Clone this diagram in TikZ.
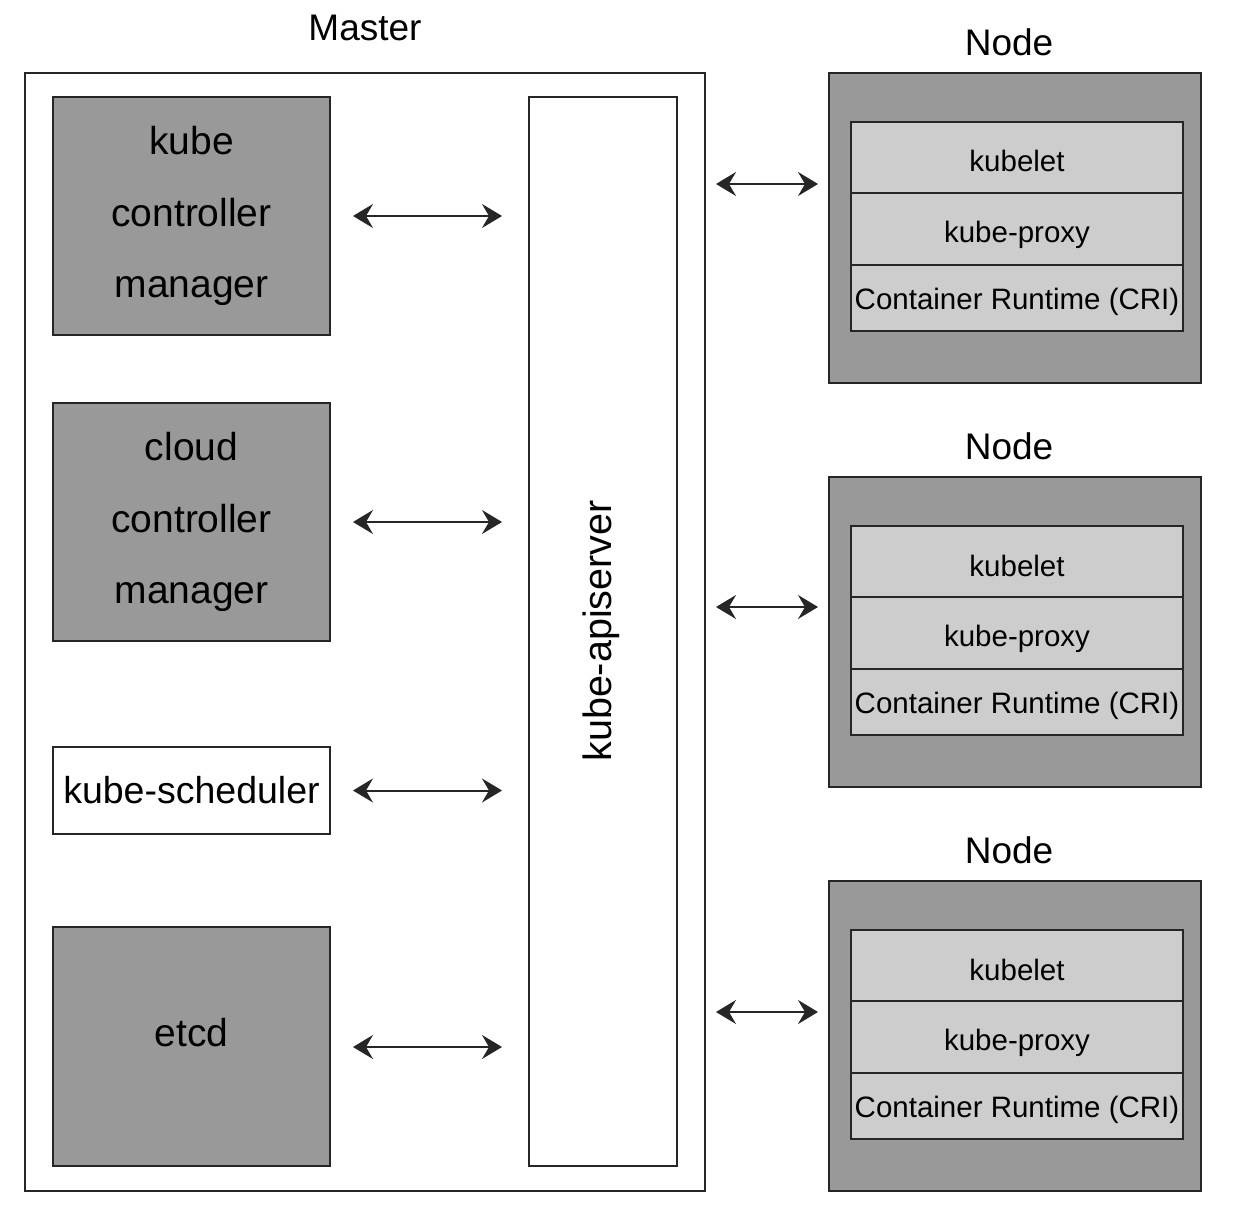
\documentclass[tikz,border=0pt]{standalone}
\usepackage{fontspec}
\setmainfont{Liberation Sans}
\usetikzlibrary{arrows.meta}
\definecolor{darkfill}{RGB}{153,153,153}
\definecolor{lightfill}{RGB}{205,205,205}
\definecolor{edge}{RGB}{38,38,38}
\begin{document}
\begin{tikzpicture}[x=1pt,y=-1pt,
  box/.style={draw=edge,line width=2pt,rectangle,inner sep=0pt,align=center},
  darkbox/.style={box,fill=darkfill},
  bigtxt/.style={font=\fontsize{39}{71.5}\selectfont},
  lbl/.style={font=\fontsize{37}{44}\selectfont,inner sep=0pt},
  rowbox/.style={box,fill=lightfill,minimum width=332pt,font=\fontsize{29.5}{35}\selectfont},
  biarrow/.style={line width=2pt,draw=edge,{Stealth[length=20pt,width=24pt,inset=7pt]}-{Stealth[length=20pt,width=24pt,inset=7pt]}}
]
\useasboundingbox[fill=white] (0,0) rectangle (1236,1214);

% Master
\node[box,fill=white,minimum width=680pt,minimum height=1118pt] (master) at (365,632) {};
\node[lbl] (masterlbl) at (365,28) {Master};

\node[darkbox,bigtxt,minimum width=277pt,minimum height=238pt] (kcm) at (191.5,216) {kube\\controller\\manager};
\node[darkbox,bigtxt,minimum width=277pt,minimum height=238pt] (ccm) at (191.5,522) {cloud\\controller\\manager};
\node[box,fill=white,font=\fontsize{37.5}{44}\selectfont,minimum width=277pt,minimum height=87pt] (sched) at (191.5,790.5) {kube-scheduler};
\node[darkbox,minimum width=277pt,minimum height=239pt] (etcd) at (191.5,1046.5) {};
\node[bigtxt,inner sep=0pt] (etcdlbl) at (191.5,1033) {etcd};

\node[box,fill=white,minimum width=148pt,minimum height=1069pt] (api) at (603,631.5) {};
\node[font=\fontsize{39.5}{44}\selectfont,rotate=90,inner sep=0pt] (apilbl) at (601,631) {kube-apiserver};

\foreach \n in {kcm,ccm,sched}{
  \draw[biarrow] ([xshift=22pt]\n.east) -- ([xshift=-26pt]\n.east -| api.west);
}
\draw[biarrow] ([xshift=22pt,yshift=-0.5pt]etcd.east) -- ([xshift=-26pt,yshift=-0.5pt]etcd.east -| api.west);

% Worker nodes
\foreach \i/\y in {1/228,2/632,3/1036}{
  \node[darkbox,minimum width=372pt,minimum height=310pt] (n\i) at (1015,\y) {};
  \node[lbl] (n\i lbl) at ([xshift=-6pt,yshift=30pt]n\i.north) {Node};
  \node[rowbox,minimum height=71pt,text height=29pt,text depth=-4.5pt] (kl\i) at (1017,\y-70.5) {kubelet};
  \node[rowbox,minimum height=72pt,text height=27.5pt,text depth=0pt] (kp\i) at (1017,\y+1) {kube-proxy};
  \node[rowbox,minimum height=66pt,text height=23pt,text depth=0pt] (cr\i) at (1017,\y+70) {Container Runtime (CRI)};
}
\draw[biarrow] ([xshift=10pt,yshift=44pt]n1.west -| master.east) -- ([xshift=-10pt,yshift=44pt]n1.west);
\draw[biarrow] ([xshift=10pt,yshift=25pt]n2.west -| master.east) -- ([xshift=-10pt,yshift=25pt]n2.west);
\draw[biarrow] ([xshift=10pt,yshift=24pt]n3.west -| master.east) -- ([xshift=-10pt,yshift=24pt]n3.west);
\end{tikzpicture}
\end{document}
